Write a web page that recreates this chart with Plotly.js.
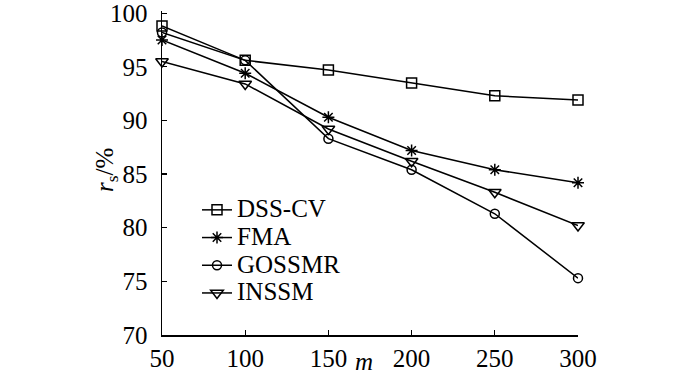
<!DOCTYPE html>
<html>
<head>
<meta charset="utf-8">
<script src="https://cdn.plot.ly/plotly-3.0.1.min.js"></script>
<style>html,body{margin:0;padding:0;background:#fff;}#chart{width:700px;height:374px;}</style>
</head>
<body>
<div id="chart"></div>
<script>
const mValues = [50, 100, 150, 200, 250, 300];
const dssCV  = [98.8, 95.6, 94.7, 93.5, 92.3, 91.9];
const fma    = [97.5, 94.4, 90.3, 87.2, 85.4, 84.2];
const gossmr = [98.2, 95.6, 88.3, 85.4, 81.3, 75.3];
const inssm  = [95.5, 93.4, 89.2, 86.2, 83.3, 80.2];
const seriesNames = ['DSS-CV', 'FMA', 'GOSSMR', 'INSSM'];
const yTicks = [70, 75, 80, 85, 90, 95, 100];
const xTicks = [50, 100, 150, 200, 250, 300];
const xTitle = '<i>m</i>';
const yTitle = '<i>r</i><sub>s</sub>/%';

const symbols = ['square-open', 'asterisk-open', 'circle-open', 'triangle-down-open'];
const sizes = [10, 10, 9, 11];
const data = [dssCV, fma, gossmr, inssm].map((ys, i) => ({
  x: mValues, y: ys, name: '<span style="font-size:25px">' + seriesNames[i] + '</span>',
  type: 'scatter', mode: 'lines+markers',
  cliponaxis: false,
  line: {color: '#000', width: 1.5},
  marker: {symbol: symbols[i], size: sizes[i], color: '#000', line: {color: '#000', width: 1.5}}
}));

const font = {family: 'Liberation Serif, Times New Roman, serif', size: 25, color: '#000'};
const M = {l: 162, r: 122, t: 11, b: 39};
const plotH = 374 - M.t - M.b, plotW = 700 - M.l - M.r;
const layout = {
  width: 700, height: 374,
  margin: M,
  paper_bgcolor: '#fff', plot_bgcolor: '#fff',
  font: font,
  showlegend: true,
  legend: {x: (197 - M.l) / plotW, y: 1 - (191 - M.t) / plotH, xanchor: 'left', yanchor: 'top',
           bgcolor: 'rgba(0,0,0,0)',
           font: {family: font.family, size: 19, color: '#000'}, tracegroupgap: 0, itemwidth: 30},
  xaxis: {range: [50, 300], tickvals: xTicks, ticktext: xTicks.map(String),
          showline: true, linecolor: '#000', linewidth: 1.5, showgrid: false, zeroline: false,
          ticks: 'inside', ticklen: 5, tickwidth: 1.2, tickcolor: '#000',
          tickfont: font, ticklabeloverflow: 'allow'},
  yaxis: {range: [70, 100.2], tickvals: yTicks, ticktext: yTicks.map(String),
          showline: true, linecolor: '#000', linewidth: 1.5, showgrid: false, zeroline: false,
          ticks: 'inside', ticklen: 5, tickwidth: 1.2, tickcolor: '#000',
          tickfont: font, ticklabeloverflow: 'allow', ticklabelstandoff: 8},
  annotations: [
    {text: xTitle, xref: 'paper', yref: 'paper', x: (364 - M.l) / plotW, y: -(361 - (374 - M.b)) / plotH,
     xanchor: 'center', yanchor: 'middle', showarrow: false, font: font},
    {text: yTitle, xref: 'paper', yref: 'paper', x: (106 - M.l) / plotW, y: 1 - (170 - M.t) / plotH,
     xanchor: 'center', yanchor: 'middle', textangle: -90, showarrow: false, font: font}
  ]
};
Plotly.newPlot('chart', data, layout, {displayModeBar: false, staticPlot: true});
</script>
</body>
</html>
